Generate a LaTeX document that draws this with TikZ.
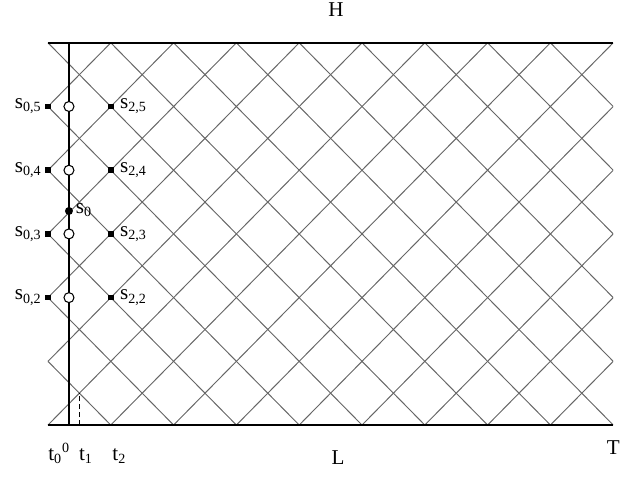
\documentclass[tikz,border=0pt]{standalone}
\usepackage{fontspec}
\setmainfont{Liberation Serif}
\usetikzlibrary{positioning}

\begin{document}
\begin{tikzpicture}[x=1.256cm, y=1.274cm, font=\fontsize{12}{14}\selectfont,
  diagline/.style={black!60, line width=0.55pt},
  boundline/.style={line width=1.1pt},
  sq/.style={fill=black, inner sep=0pt, minimum size=0.11cm},
  circ/.style={circle, draw, fill=white, line width=0.6pt, inner sep=0pt, minimum size=0.2cm},
  lab/.style={inner sep=0pt}]
  \useasboundingbox (-0.764,-0.8006) rectangle (9.124,6.672);
  \def\xo{0.334}
  % Diagonal lattice inside the strip
  \begin{scope}
    \clip (0,0) rectangle (9,6);
    \foreach \c in {-6,...,9} \draw[diagline] (\c,0) -- ++(6,6);
    \foreach \c in {0,...,15} \draw[diagline] (\c,0) -- ++(-6,6);
  \end{scope}
  % Boundaries
  \coordinate (LL) at (0,0);
  \coordinate (LR) at (9,0);
  \coordinate (UL) at (0,6);
  \coordinate (UR) at (9,6);
  \draw[boundline] (UL) -- (UR);
  \draw[boundline] (LL) -- (LR);
  \draw[boundline] (\xo,0) -- (\xo,6);
  \draw[dashed, dash pattern=on 3pt off 1.5pt] (0.5,0) -- (0.5,0.5);
  % Points on the lattice
  \foreach \j in {2,...,5} {
    \node[sq] (s0\j) at (0,\j) {};
    \node[sq] (s2\j) at (1,\j) {};
    \node[circ] (c\j) at (\xo,\j) {};
    \node[lab, left=0.06cm of s0\j] (ls0\j) {s\textsubscript{0,\j}};
    \node[lab, right=0.12cm of s2\j] (ls2\j) {s\textsubscript{2,\j}};
  }
  \node[circle, fill=black, inner sep=0pt, minimum size=0.16cm] (s0) at (\xo,3.36) {};
  \node[lab, anchor=base west] (ls0) at (0.44,3.32) {s\textsubscript{0}};
  % Labels
  \node (H) at (4.586,6.515) {H};
  \node (L) at (4.618,-0.518) {L};
  \node[lab, anchor=east] (T) at (9.11,-0.36) {T};
  \node[lab, anchor=base west] (t0) at (0,-0.55) {t\textsubscript{0}\textsuperscript{0}};
  \node[lab, anchor=base west] (t1) at (0.49,-0.55) {t\textsubscript{1}};
  \node[lab, anchor=base west] (t2) at (1.02,-0.55) {t\textsubscript{2}};
\end{tikzpicture}
\end{document}
